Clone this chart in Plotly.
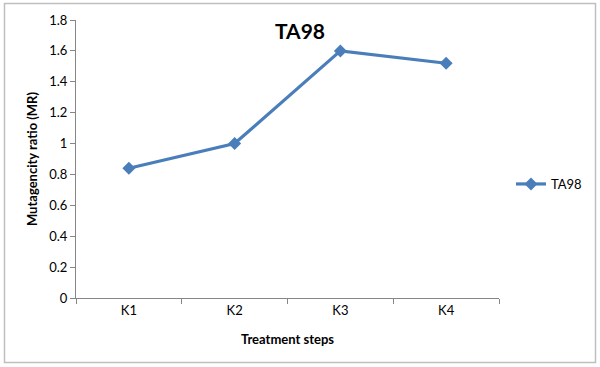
import plotly.graph_objects as go

categories = ["K1", "K2", "K3", "K4"]
values = [0.84, 1.0, 1.6, 1.52]
series_name = "TA98"
y_ticks = [0, 0.2, 0.4, 0.6, 0.8, 1, 1.2, 1.4, 1.6, 1.8]
y_tick_labels = ["0", "0.2", "0.4", "0.6", "0.8", "1", "1.2", "1.4", "1.6", "1.8"]

L, R, T, B = 76, 101, 20, 69
W, H = 600, 367
pw, ph = W - L - R, H - T - B

def px2x(px):
    return (px - L) / pw

def py2y(py):
    return (H - B - py) / ph

FONT = "Lato, Open Sans, sans-serif"
color = "#4A7EBB"

fig = go.Figure()
fig.add_trace(go.Scatter(
    x=categories, y=values, name=series_name, mode="lines+markers",
    line=dict(color=color, width=3.2),
    marker=dict(symbol="diamond", size=10, color=color),
))

fig.update_layout(
    width=W, height=H,
    margin=dict(l=L, r=R, t=T, b=B),
    paper_bgcolor="white", plot_bgcolor="white",
    font=dict(family=FONT, size=13, color="#000000"),
    title=dict(text="<b>TA98</b>", x=px2x(300), xref="paper", xanchor="center",
               y=1 - 32 / H, yanchor="middle", font=dict(size=21, family=FONT)),
    showlegend=True,
    legend=dict(x=px2x(511), y=py2y(184), xanchor="left", yanchor="middle",
                font=dict(size=13, family=FONT), bgcolor="rgba(0,0,0,0)"),
    xaxis=dict(
        type="category", range=[-0.5, 3.5], showline=True, linecolor="#868686",
        linewidth=1, ticks="outside", tickson="boundaries", ticklen=5,
        tickcolor="#868686", showgrid=False, zeroline=False,
        title=dict(text="<b>Treatment steps</b>", font=dict(size=13), standoff=18),
        tickfont=dict(size=13),
    ),
    yaxis=dict(
        range=[0, 1.8], tickvals=y_ticks, ticktext=y_tick_labels,
        showline=True, linecolor="#868686", linewidth=1, ticks="outside",
        ticklen=5, tickcolor="#868686", showgrid=False, zeroline=False,
        title=dict(text="<b>Mutagencity ratio (MR)</b>", font=dict(size=13), standoff=8),
        tickfont=dict(size=13),
    ),
    shapes=[dict(type="rect", xref="paper", yref="paper",
                 x0=px2x(4.5), x1=px2x(595.5), y0=py2y(362.5), y1=py2y(3.5),
                 line=dict(color="#BFBFBF", width=1.5), fillcolor="rgba(0,0,0,0)")],
)

fig.write_html("out.html", config={"displayModeBar": False},
               post_script="document.body.style.margin='0';document.body.style.overflow='hidden';")
